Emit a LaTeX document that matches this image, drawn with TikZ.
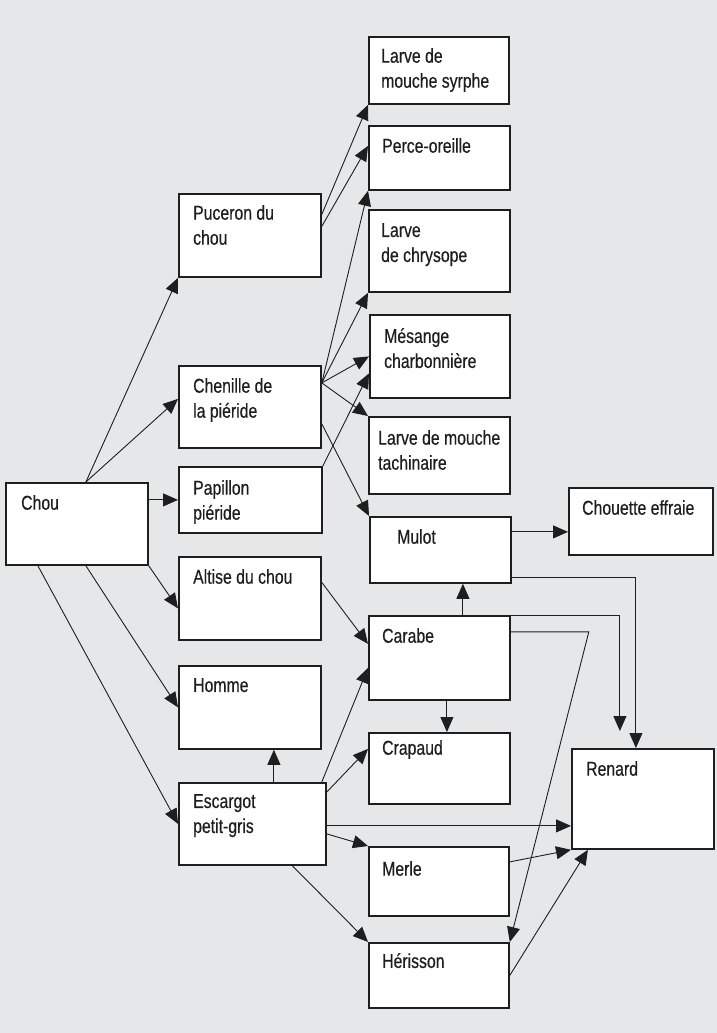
\documentclass[tikz,border=0pt]{standalone}
\usepackage{fontspec}
\setmainfont{Liberation Sans}[FakeStretch=0.79, FakeBold=0.4]
\usepackage{tikz}
\usetikzlibrary{arrows.meta, positioning, calc}
\definecolor{fond}{RGB}{230,231,233}
\definecolor{trait}{RGB}{30,30,30}
\tikzset{
  bloc/.style={rectangle, draw=trait, fill=white, anchor=north west,
    line width=1.8pt, inner sep=0pt},
  etiq/.style={anchor=north west, inner sep=0pt, align=left,
    font=\fontsize{20}{25}\selectfont, text=trait},
  arrow/.style={-{Triangle[length=15pt,width=13pt]}, line width=0.9pt, color=trait}
}

\begin{document}
\begin{tikzpicture}[x=1pt, y=-1pt]

  \fill[fond] (0,0) rectangle (717,1033);
  \useasboundingbox (0,0) rectangle (717,1033);

  \node[bloc, minimum width=142pt, minimum height=82pt] (chou) at (5,482) {};
  \node[etiq] (chou-t) at ([shift={(16pt,-13pt)}]chou.north west) {Chou};

  \node[bloc, minimum width=142pt, minimum height=83pt] (puceron) at (178,193) {};
  \node[etiq] (puceron-t) at ([shift={(15pt,-12pt)}]puceron.north west) {Puceron du\\chou};
  \node[bloc, minimum width=142pt, minimum height=82pt] (chenille) at (178,365) {};
  \node[etiq] (chenille-t) at ([shift={(15pt,-13pt)}]chenille.north west) {Chenille de\\la piéride};
  \node[bloc, minimum width=143pt, minimum height=66pt] (papillon) at (178,466) {};
  \node[etiq] (papillon-t) at ([shift={(15pt,-14pt)}]papillon.north west) {Papillon\\piéride};
  \node[bloc, minimum width=142pt, minimum height=83pt] (altise) at (178,556) {};
  \node[etiq] (altise-t) at ([shift={(15pt,-13pt)}]altise.north west) {Altise du chou};
  \node[bloc, minimum width=142pt, minimum height=83pt] (homme) at (178,665) {};
  \node[etiq] (homme-t) at ([shift={(15pt,-13pt)}]homme.north west) {Homme};
  \node[bloc, minimum width=147pt, minimum height=82pt] (escargot) at (178,782) {};
  \node[etiq] (escargot-t) at ([shift={(15pt,-12pt)}]escargot.north west) {Escargot\\petit-gris};

  \node[bloc, minimum width=140pt, minimum height=67pt] (syrphe) at (368,36) {};
  \node[etiq] (syrphe-t) at ([shift={(13pt,-12pt)}]syrphe.north west) {Larve de\\mouche syrphe};
  \node[bloc, minimum width=141pt, minimum height=64pt] (perce) at (368,125) {};
  \node[etiq] (perce-t) at ([shift={(14pt,-13pt)}]perce.north west) {Perce-oreille};
  \node[bloc, minimum width=141pt, minimum height=82pt] (chrysope) at (368,209) {};
  \node[etiq] (chrysope-t) at ([shift={(13pt,-14pt)}]chrysope.north west) {Larve\\de chrysope};
  \node[bloc, minimum width=140pt, minimum height=83pt] (mesange) at (369,314) {};
  \node[etiq] (mesange-t) at ([shift={(15pt,-14pt)}]mesange.north west) {Mésange\\charbonnière};
  \node[bloc, minimum width=141pt, minimum height=77pt] (tachinaire) at (368,416) {};
  \node[etiq] (tachinaire-t) at ([shift={(10pt,-14pt)}]tachinaire.north west) {Larve de mouche\\tachinaire};
  \node[bloc, minimum width=141pt, minimum height=66pt] (mulot) at (369,516) {};
  \node[etiq] (mulot-t) at ([shift={(28pt,-13pt)}]mulot.north west) {Mulot};
  \node[bloc, minimum width=141pt, minimum height=84pt] (carabe) at (368,615) {};
  \node[etiq] (carabe-t) at ([shift={(14pt,-13pt)}]carabe.north west) {Carabe};
  \node[bloc, minimum width=141pt, minimum height=71pt] (crapaud) at (368,732) {};
  \node[etiq] (crapaud-t) at ([shift={(14pt,-8pt)}]crapaud.north west) {Crapaud};
  \node[bloc, minimum width=140pt, minimum height=69pt] (merle) at (368,846) {};
  \node[etiq] (merle-t) at ([shift={(14pt,-15pt)}]merle.north west) {Merle};
  \node[bloc, minimum width=140pt, minimum height=65pt] (herisson) at (368,942) {};
  \node[etiq] (herisson-t) at ([shift={(14pt,-11pt)}]herisson.north west) {Hérisson};

  \node[bloc, minimum width=144pt, minimum height=67pt] (chouette) at (568,487) {};
  \node[etiq] (chouette-t) at ([shift={(14pt,-13pt)}]chouette.north west) {Chouette effraie};
  \node[bloc, minimum width=142pt, minimum height=100pt] (renard) at (571,748) {};
  \node[etiq] (renard-t) at ([shift={(15pt,-13pt)}]renard.north west) {Renard};

  % depuis le chou
  \draw[arrow] ([xshift=9pt]chou.north) -- (puceron.south west);
  \draw[arrow] ([xshift=9pt]chou.north) -- ([yshift=8pt]chenille.west);
  \draw[arrow] (chou.east |- papillon.west) -- (papillon.west);
  \draw[arrow] (chou.south east) -- ([yshift=-10pt]altise.west);
  \draw[arrow] ([xshift=9pt]chou.south) -- (homme.west);
  \draw[arrow] ([xshift=-39pt]chou.south) -- (escargot.west);

  \draw[arrow] ([yshift=21pt]puceron.east) -- (syrphe.south west);
  \draw[arrow] ([yshift=9pt]puceron.east) -- ([yshift=12pt]perce.west);

  \coordinate (chen-o) at ([yshift=24pt]chenille.east);
  \draw[arrow] (chen-o) -- (perce.south west);
  \draw[arrow] (chen-o) -- (chrysope.south west);
  \draw[arrow] (chen-o) -- (mesange.west);
  \draw[arrow] (chen-o) -- (tachinaire.north west);
  \draw[arrow] ([yshift=-17pt]chenille.east) -- (mulot.north west);
  \draw[arrow] (papillon.north east) -- ([yshift=-17pt]mesange.west);

  % mulot et carabe
  \coordinate (mul-e) at ([yshift=18pt]mulot.east);
  \draw[arrow] (mul-e) -- (mul-e -| chouette.west);
  \draw[arrow] ([yshift=-28pt]mulot.east) -| ([xshift=-7pt]renard.north);
  \coordinate (car-n) at ([xshift=23.5pt]carabe.north);
  \draw[arrow] (car-n) -- (car-n |- mulot.south);
  \coordinate (ren-a) at ([xshift=-23pt,yshift=17pt]renard.north);
  \draw[arrow] (carabe.north east) -| (ren-a);
  \draw[arrow] ([yshift=26pt]carabe.east) -- ++(78,0) -- (herisson.north east);
  \draw[arrow] ([xshift=7.5pt]carabe.south) -- ([xshift=7.5pt]crapaud.north);
  \draw[arrow] ([yshift=16pt]altise.east) -- ([yshift=14pt]carabe.west);

  % depuis l'escargot
  \draw[arrow] ([xshift=-5pt]escargot.north east) -- ([yshift=-10pt]carabe.west);
  \coordinate (esc-n) at ([xshift=21.5pt]escargot.north);
  \draw[arrow] (esc-n) -- (esc-n |- homme.south);
  \draw[arrow] ([yshift=-10pt]escargot.north east) -- ([yshift=19.5pt]crapaud.west);
  \coordinate (esc-e) at ([yshift=-2pt]escargot.east);
  \draw[arrow] (esc-e) -- (esc-e -| renard.west);
  \draw[arrow] ([yshift=-10pt]escargot.east) -- (merle.north west);
  \draw[arrow] ([xshift=40pt]escargot.south) -- (herisson.north west);

  \draw[arrow] ([yshift=19.5pt]merle.east) -- (renard.south west);
  \draw[arrow] (herisson.east) -- ([xshift=-55pt]renard.south);
\end{tikzpicture}
\end{document}
